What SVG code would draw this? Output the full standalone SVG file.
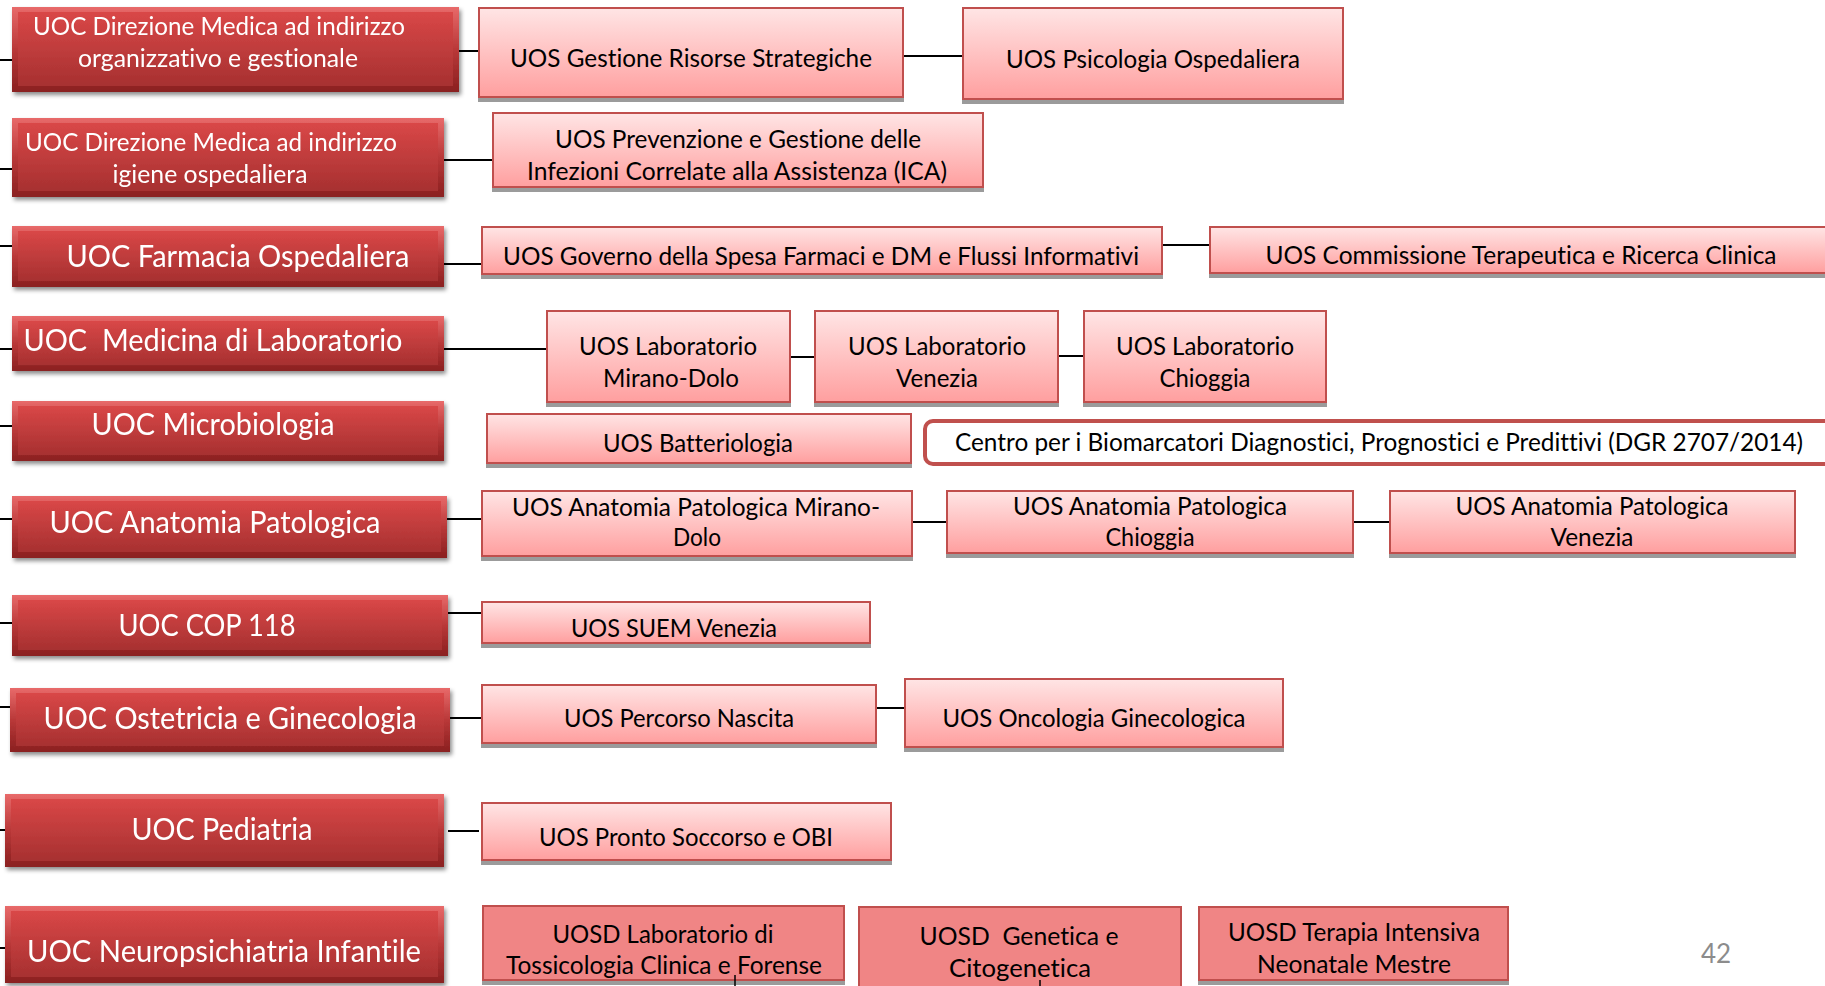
<svg xmlns="http://www.w3.org/2000/svg" width="1825" height="986" viewBox="0 0 1825 986">
<defs>
<linearGradient id="gEdge" x1="0" y1="0" x2="0" y2="1">
<stop offset="0" stop-color="#e86a6a"/>
<stop offset="0.5" stop-color="#b93838"/>
<stop offset="1" stop-color="#8a2020"/>
</linearGradient>
<linearGradient id="gFace" x1="0" y1="0" x2="0" y2="1">
<stop offset="0" stop-color="#d94747"/>
<stop offset="0.55" stop-color="#bd3b3b"/>
<stop offset="1" stop-color="#a73030"/>
</linearGradient>
<linearGradient id="gUos" x1="0" y1="0" x2="0" y2="1">
<stop offset="0" stop-color="#ffe5e5"/>
<stop offset="1" stop-color="#ff9f9f"/>
</linearGradient>
<filter id="fUoc" x="-5%" y="-20%" width="112%" height="150%">
<feDropShadow dx="2" dy="3" stdDeviation="2" flood-color="#000" flood-opacity="0.45"/>
</filter>
<filter id="fUos" x="-5%" y="-20%" width="110%" height="150%">
<feDropShadow dx="0" dy="4" stdDeviation="0.6" flood-color="#7a7a7a" flood-opacity="0.75"/>
</filter>
</defs>
<style>
.edge{fill:url(#gEdge)}
.face{fill:url(#gFace)}
.uoc{filter:url(#fUoc)}
.uos{fill:url(#gUos);stroke:#c0504d;stroke-width:2}
.uosd{fill:#f08585;stroke:#c0504d;stroke-width:2}
.sh{filter:url(#fUos)}
.centro{fill:#ffffff;stroke:#c0504d;stroke-width:4}
text{font-variant-ligatures:none;font-feature-settings:"liga" 0,"dlig" 0}
.tw{fill:#ffffff;font-family:Lato,"Liberation Sans",sans-serif;text-anchor:middle}
.tb{fill:#000000;font-family:Lato,"Liberation Sans",sans-serif;text-anchor:middle;font-size:24.5px}
.big{font-size:30px}
.med{font-size:25px}
.conn line{stroke:#000000;stroke-width:2}
.pg{fill:#8c8c8c;font-family:Lato,"Liberation Sans",sans-serif;font-size:26px;text-anchor:middle}
</style>

<g id="connectors" class="conn">
<line x1="0" y1="60" x2="12" y2="60"/>
<line x1="0" y1="169" x2="12" y2="169"/>
<line x1="0" y1="246" x2="12" y2="246"/>
<line x1="0" y1="349" x2="12" y2="349"/>
<line x1="0" y1="426" x2="12" y2="426"/>
<line x1="0" y1="519" x2="12" y2="519"/>
<line x1="0" y1="623" x2="12" y2="623"/>
<line x1="0" y1="707" x2="10" y2="707"/>
<line x1="0" y1="830" x2="5" y2="830"/>
<line x1="0" y1="948" x2="5" y2="948"/>
<line x1="459" y1="51" x2="479" y2="51"/>
<line x1="903" y1="56" x2="963" y2="56"/>
<line x1="444" y1="160" x2="493" y2="160"/>
<line x1="444" y1="264" x2="482" y2="264"/>
<line x1="1162" y1="245" x2="1210" y2="245"/>
<line x1="444" y1="349" x2="547" y2="349"/>
<line x1="790" y1="357" x2="815" y2="357"/>
<line x1="1058" y1="356" x2="1084" y2="356"/>
<line x1="447" y1="519" x2="482" y2="519"/>
<line x1="912" y1="522" x2="947" y2="522"/>
<line x1="1353" y1="522" x2="1390" y2="522"/>
<line x1="448" y1="613" x2="482" y2="613"/>
<line x1="450" y1="718" x2="482" y2="718"/>
<line x1="876" y1="708" x2="905" y2="708"/>
<line x1="448" y1="831" x2="479" y2="831"/>
</g>

<g id="uoc-dir-org" class="uoc">
<rect class="edge" x="12" y="7" width="447" height="85"/>
<rect class="face" x="18" y="12" width="435" height="74"/>
<text class="tw med" x="219" y="35" textLength="372" lengthAdjust="spacingAndGlyphs">UOC Direzione Medica ad indirizzo</text>
<text class="tw med" x="218" y="67" textLength="280" lengthAdjust="spacingAndGlyphs">organizzativo e gestionale</text>
</g>
<g id="uoc-dir-igiene" class="uoc">
<rect class="edge" x="12" y="118" width="432" height="79"/>
<rect class="face" x="18" y="123" width="420" height="68"/>
<text class="tw med" x="211" y="151" textLength="372" lengthAdjust="spacingAndGlyphs">UOC Direzione Medica ad indirizzo</text>
<text class="tw med" x="210" y="183" textLength="195" lengthAdjust="spacingAndGlyphs">igiene ospedaliera</text>
</g>
<g id="uoc-farmacia" class="uoc">
<rect class="edge" x="12" y="226" width="432" height="61"/>
<rect class="face" x="18" y="231" width="420" height="50"/>
<text class="tw big" x="238" y="267" textLength="343" lengthAdjust="spacingAndGlyphs">UOC Farmacia Ospedaliera</text>
</g>
<g id="uoc-medicina-lab" class="uoc">
<rect class="edge" x="12" y="316" width="432" height="55"/>
<rect class="face" x="18" y="321" width="420" height="44"/>
<text class="tw big" x="213" y="351" textLength="379" lengthAdjust="spacingAndGlyphs" xml:space="preserve">UOC  Medicina di Laboratorio</text>
</g>
<g id="uoc-microbiologia" class="uoc">
<rect class="edge" x="12" y="401" width="432" height="60"/>
<rect class="face" x="18" y="406" width="420" height="49"/>
<text class="tw big" x="213" y="435" textLength="243" lengthAdjust="spacingAndGlyphs">UOC Microbiologia</text>
</g>
<g id="uoc-anatomia" class="uoc">
<rect class="edge" x="12" y="496" width="435" height="62"/>
<rect class="face" x="18" y="501" width="423" height="51"/>
<text class="tw big" x="215" y="533" textLength="331" lengthAdjust="spacingAndGlyphs">UOC Anatomia Patologica</text>
</g>
<g id="uoc-cop118" class="uoc">
<rect class="edge" x="12" y="595" width="436" height="61"/>
<rect class="face" x="18" y="600" width="424" height="50"/>
<text class="tw big" x="207" y="636" textLength="177" lengthAdjust="spacingAndGlyphs">UOC COP 118</text>
</g>
<g id="uoc-ostetricia" class="uoc">
<rect class="edge" x="10" y="688" width="440" height="64"/>
<rect class="face" x="16" y="693" width="428" height="53"/>
<text class="tw big" x="230" y="729" textLength="373" lengthAdjust="spacingAndGlyphs">UOC Ostetricia e Ginecologia</text>
</g>
<g id="uoc-pediatria" class="uoc">
<rect class="edge" x="5" y="794" width="439" height="73"/>
<rect class="face" x="11" y="799" width="427" height="62"/>
<text class="tw big" x="222" y="840" textLength="181" lengthAdjust="spacingAndGlyphs">UOC Pediatria</text>
</g>
<g id="uoc-neuropsichiatria" class="uoc">
<rect class="edge" x="5" y="906" width="439" height="77"/>
<rect class="face" x="11" y="911" width="427" height="66"/>
<text class="tw big" x="224" y="962" textLength="394" lengthAdjust="spacingAndGlyphs">UOC Neuropsichiatria Infantile</text>
</g>

<g id="uos-gestione">
<rect class="uos sh" x="479" y="8" width="424" height="89"/>
<text class="tb" x="691" y="67" textLength="362" lengthAdjust="spacingAndGlyphs">UOS Gestione Risorse Strategiche</text>
</g>
<g id="uos-psicologia">
<rect class="uos sh" x="963" y="8" width="380" height="91"/>
<text class="tb" x="1153" y="68" textLength="294" lengthAdjust="spacingAndGlyphs">UOS Psicologia Ospedaliera</text>
</g>
<g id="uos-prevenzione">
<rect class="uos sh" x="493" y="113" width="490" height="74"/>
<text class="tb" x="738" y="148" textLength="366" lengthAdjust="spacingAndGlyphs">UOS Prevenzione e Gestione delle</text>
<text class="tb" x="737" y="180" textLength="420" lengthAdjust="spacingAndGlyphs">Infezioni Correlate alla Assistenza (ICA)</text>
</g>
<g id="uos-governo">
<rect class="uos sh" x="482" y="227" width="680" height="47"/>
<text class="tb" x="821" y="265" textLength="636" lengthAdjust="spacingAndGlyphs">UOS Governo della Spesa Farmaci e DM e Flussi Informativi</text>
</g>
<g id="uos-commissione">
<rect class="uos sh" x="1210" y="227" width="640" height="46"/>
<text class="tb" x="1521" y="264" textLength="511" lengthAdjust="spacingAndGlyphs">UOS Commissione Terapeutica e Ricerca Clinica</text>
</g>
<g id="uos-lab-mirano">
<rect class="uos sh" x="547" y="311" width="243" height="91"/>
<text class="tb" x="668" y="355" textLength="178" lengthAdjust="spacingAndGlyphs">UOS Laboratorio</text>
<text class="tb" x="671" y="387" textLength="136" lengthAdjust="spacingAndGlyphs">Mirano-Dolo</text>
</g>
<g id="uos-lab-venezia">
<rect class="uos sh" x="815" y="311" width="243" height="91"/>
<text class="tb" x="937" y="355" textLength="178" lengthAdjust="spacingAndGlyphs">UOS Laboratorio</text>
<text class="tb" x="937" y="387" textLength="82" lengthAdjust="spacingAndGlyphs">Venezia</text>
</g>
<g id="uos-lab-chioggia">
<rect class="uos sh" x="1084" y="311" width="242" height="91"/>
<text class="tb" x="1205" y="355" textLength="178" lengthAdjust="spacingAndGlyphs">UOS Laboratorio</text>
<text class="tb" x="1205" y="387" textLength="91" lengthAdjust="spacingAndGlyphs">Chioggia</text>
</g>
<g id="uos-batteriologia">
<rect class="uos sh" x="487" y="414" width="424" height="49"/>
<text class="tb" x="698" y="452" textLength="190" lengthAdjust="spacingAndGlyphs">UOS Batteriologia</text>
</g>
<g id="centro-biomarcatori">
<rect class="centro" x="925" y="421" width="925" height="43" rx="8"/>
<text class="tb" x="1379" y="451" textLength="848" lengthAdjust="spacingAndGlyphs">Centro per i Biomarcatori Diagnostici, Prognostici e Predittivi (DGR 2707/2014)</text>
</g>
<g id="uos-anat-mirano">
<rect class="uos sh" x="482" y="491" width="430" height="65"/>
<text class="tb" x="696" y="516" textLength="368" lengthAdjust="spacingAndGlyphs">UOS Anatomia Patologica Mirano-</text>
<text class="tb" x="697" y="546" textLength="48" lengthAdjust="spacingAndGlyphs">Dolo</text>
</g>
<g id="uos-anat-chioggia">
<rect class="uos sh" x="947" y="491" width="406" height="62"/>
<text class="tb" x="1150" y="515" textLength="274" lengthAdjust="spacingAndGlyphs">UOS Anatomia Patologica</text>
<text class="tb" x="1150" y="546" textLength="89" lengthAdjust="spacingAndGlyphs">Chioggia</text>
</g>
<g id="uos-anat-venezia">
<rect class="uos sh" x="1390" y="491" width="405" height="62"/>
<text class="tb" x="1592" y="515" textLength="273" lengthAdjust="spacingAndGlyphs">UOS Anatomia Patologica</text>
<text class="tb" x="1592" y="546" textLength="83" lengthAdjust="spacingAndGlyphs">Venezia</text>
</g>
<g id="uos-suem">
<rect class="uos sh" x="482" y="602" width="388" height="41"/>
<text class="tb" x="674" y="637" textLength="206" lengthAdjust="spacingAndGlyphs">UOS SUEM Venezia</text>
</g>
<g id="uos-percorso">
<rect class="uos sh" x="482" y="685" width="394" height="58"/>
<text class="tb" x="679" y="727" textLength="230" lengthAdjust="spacingAndGlyphs">UOS Percorso Nascita</text>
</g>
<g id="uos-oncologia">
<rect class="uos sh" x="905" y="679" width="378" height="68"/>
<text class="tb" x="1094" y="727" textLength="303" lengthAdjust="spacingAndGlyphs">UOS Oncologia Ginecologica</text>
</g>
<g id="uos-pronto-soccorso">
<rect class="uos sh" x="482" y="803" width="409" height="57"/>
<text class="tb" x="686" y="846" textLength="294" lengthAdjust="spacingAndGlyphs">UOS Pronto Soccorso e OBI</text>
</g>
<g id="uosd-tossicologia">
<rect class="uosd sh" x="483" y="906" width="361" height="74"/>
<text class="tb" x="663" y="943" textLength="221" lengthAdjust="spacingAndGlyphs">UOSD Laboratorio di</text>
<text class="tb" x="664" y="974" textLength="316" lengthAdjust="spacingAndGlyphs">Tossicologia Clinica e Forense</text>
</g>
<g id="uosd-genetica">
<rect class="uosd sh" x="859" y="907" width="322" height="95"/>
<text class="tb" x="1019" y="945" textLength="199" lengthAdjust="spacingAndGlyphs" xml:space="preserve">UOSD  Genetica e</text>
<text class="tb" x="1020" y="977" textLength="142" lengthAdjust="spacingAndGlyphs">Citogenetica</text>
</g>
<g id="uosd-terapia-intensiva">
<rect class="uosd sh" x="1199" y="907" width="309" height="73"/>
<text class="tb" x="1354" y="941" textLength="252" lengthAdjust="spacingAndGlyphs">UOSD Terapia Intensiva</text>
<text class="tb" x="1354" y="973" textLength="194" lengthAdjust="spacingAndGlyphs">Neonatale Mestre</text>
</g>

<g id="connectors-down" class="conn">
<line x1="735" y1="975" x2="735" y2="986" style="stroke-width:1.5"/>
<line x1="1040" y1="980" x2="1040" y2="986" style="stroke-width:1.5"/>
</g>

<text class="pg" x="1716" y="963">42</text>
</svg>
